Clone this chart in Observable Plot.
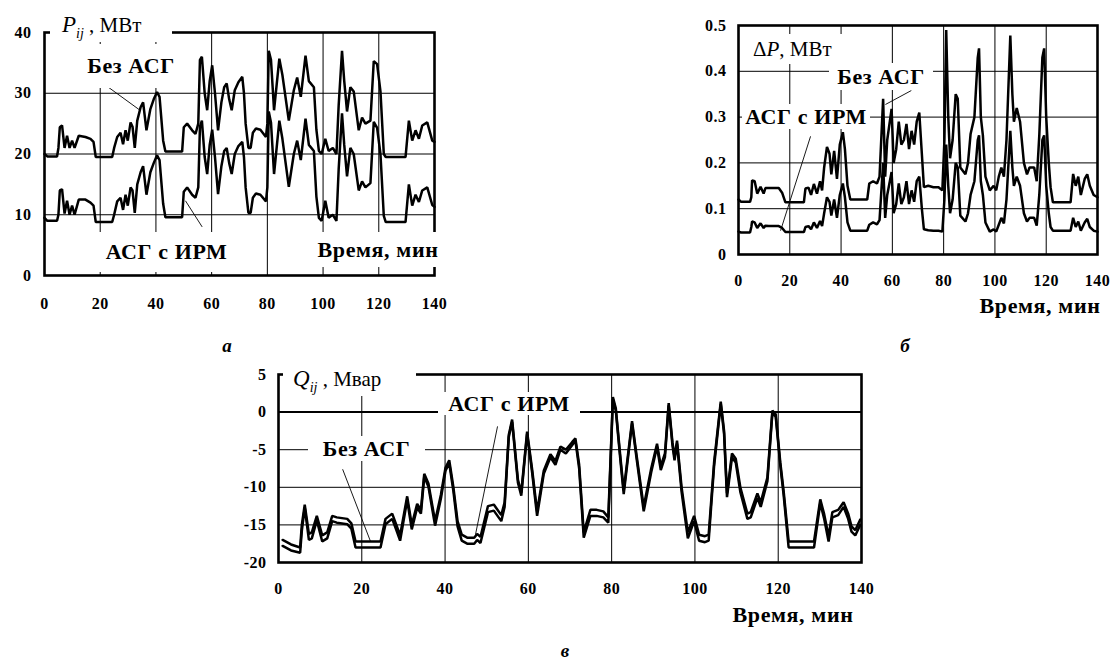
<!DOCTYPE html>
<html><head><meta charset="utf-8">
<script src="https://cdn.jsdelivr.net/npm/d3@7"></script>
<script src="https://cdn.jsdelivr.net/npm/@observablehq/plot@0.6"></script>
<style>
body{margin:0;background:#fff;}
#fig{position:relative;width:1112px;height:663px;overflow:hidden;background:#fff;font-family:"Liberation Serif","Times New Roman",serif;color:#000;}
.pw{position:absolute;}
.lab{position:absolute;background:#fff;font-weight:bold;font-size:22px;line-height:1;white-space:nowrap;display:flex;align-items:center;justify-content:center;letter-spacing:0.6px;}
.ttl{position:absolute;background:#fff;font-size:21px;line-height:1;white-space:nowrap;display:flex;align-items:center;}
.cap{position:absolute;font-weight:bold;font-style:italic;font-size:19px;line-height:1;transform:translate(-50%,-50%);}
sub{font-size:14px;font-style:italic;vertical-align:-6px;line-height:0;}
</style></head>
<body><div id="fig"></div>
<script>
// ---------- data (time in minutes, values) ----------
const xTicks = [0,20,40,60,80,100,120,140];
const yTicksA = [0,10,20,30,40];
const yTicksB = [0,0.1,0.2,0.3,0.4,0.5];
const yTicksC = [5,0,-5,-10,-15,-20];

// Panel a: P_ij, MW
const pBez = [[0,20],[1,19.6],[4.5,19.6],[5,21],[5.5,24.4],[6.3,24.7],[7.2,21],[8.1,23],[9,21],[9.9,22.2],[10.8,21],[12.3,23],[14.7,22.8],[16.5,22.5],[17.6,22],[18.4,19.5],[24.3,19.5],[25,21],[26.1,22.8],[27.3,23.5],[28.2,21.6],[29.1,23.9],[29.9,22.2],[30.9,25.2],[31.6,24.5],[32.4,21],[33.3,25.5],[34.5,27.7],[35.4,28.5],[36.6,23.9],[38,27.4],[39.2,29],[40.4,30.2],[41.3,29.4],[42.6,22.2],[43.4,20.4],[49.4,20.4],[50,24.4],[51.2,25],[53,23.9],[54.2,23.3],[55.2,25],[55.8,35.5],[56.5,36],[57.5,30],[58.4,27.2],[59.3,32],[60.2,34.6],[61.2,30],[62.3,23.9],[63.5,28.5],[64.5,31],[65.4,31.6],[66.3,29],[67.2,27.2],[68.3,30.5],[69.6,31.8],[71,32.7],[71.6,30],[72.2,25],[73.2,21],[74,21],[74.8,23.5],[75.9,24.2],[77.5,24],[79.5,22.8],[80,25],[80.5,37],[81.3,35.5],[82.4,27.2],[84.3,35.7],[85.4,33],[87.7,25.5],[89.5,30.5],[90.7,32.6],[92,29.4],[93.7,36.2],[94.9,32],[96.7,31],[97.6,24],[98.5,20.5],[99.5,20],[100.8,22.5],[102,20.5],[103.5,21],[104.8,20],[105.6,28],[106.8,37],[107.6,32],[108.6,27],[109.8,31],[111,30.3],[112.8,23.9],[114,26],[115.2,25],[117,25.5],[118.2,35.3],[119.4,34.8],[120.6,30.3],[121.8,20],[122.5,19.5],[129.6,19.5],[130.8,25.5],[132,22.2],[133.2,23.9],[134.4,22.5],[135.6,24.7],[137.4,25.2],[139.2,22.2],[140,22]];
const pIrm = [[0,9.5],[1,9],[4.5,9],[5,10],[5.5,14],[6.3,14.2],[7.2,10.2],[8.1,12.3],[9,10],[9.9,11.5],[10.8,10],[12.3,12.5],[14.7,12.5],[16.5,12],[17.6,11.5],[18.4,8.8],[24.3,8.8],[25,10],[26.1,12.2],[27.3,12.8],[28.2,10.8],[29.1,13.3],[29.9,11.5],[30.9,14.5],[31.6,14],[32.4,10.3],[33.3,15],[34.5,17],[35.4,18],[36.6,13.3],[38,17],[39.2,18.5],[40.4,19.8],[41.3,19],[42.6,11.8],[43.4,9.6],[49.4,9.6],[50,13.8],[51.2,14.5],[53,13.3],[54.2,12.8],[55.2,14.5],[55.8,24.5],[56.5,25.5],[57.5,19.5],[58.4,16.7],[59.3,21.5],[60.2,24],[61.2,19.5],[62.3,13.4],[63.5,18],[64.5,20.5],[65.4,21],[66.3,18.5],[67.2,16.7],[68.3,20],[69.6,21.3],[71,22],[71.6,19.5],[72.2,14.5],[73.2,10.3],[74,10.3],[74.8,12.8],[75.9,13.5],[77.5,13.3],[79.5,12.2],[80,14.5],[80.5,27],[81.3,25.2],[82.4,16.7],[84.3,25.5],[85.4,22.5],[87.7,14.6],[89.5,20],[90.7,22.2],[92,19],[93.7,25.8],[94.9,21.5],[96.7,20.5],[97.6,13],[98.5,9.5],[99.5,9],[100.8,12.3],[102,9.5],[103.5,10],[104.8,9],[105.6,17.5],[106.8,26.7],[107.6,21.5],[108.6,16.3],[109.8,21],[111,20],[112.8,14],[114,15.5],[115.2,14.5],[117,15.2],[118.2,25.3],[119.4,24.3],[120.6,20],[121.8,9.8],[122.5,8.8],[129.6,8.8],[130.8,15],[132,11.5],[133.2,13.3],[134.4,12.1],[135.6,14],[137.4,14.5],[139.2,11.6],[140,11.3]];

// Panel b: ΔP, MW
const bBez = [[0,0.12],[1,0.115],[4.5,0.115],[5,0.125],[5.3,0.162],[6.3,0.16],[7.3,0.133],[8.6,0.148],[9.8,0.133],[10.5,0.145],[11.8,0.145],[15.7,0.145],[17,0.135],[18.3,0.114],[25.5,0.114],[26.1,0.144],[27.3,0.146],[28.3,0.13],[29.4,0.154],[30.6,0.133],[31.8,0.16],[32.6,0.14],[33.4,0.19],[34.5,0.235],[35.5,0.22],[36.2,0.175],[37.3,0.226],[38.4,0.165],[39.5,0.24],[40.7,0.267],[41.5,0.23],[42.5,0.15],[43.6,0.12],[50.2,0.12],[51,0.155],[52.5,0.16],[54,0.155],[55,0.17],[56.4,0.34],[57.2,0.17],[58,0.25],[59.7,0.318],[60.5,0.2],[61.5,0.23],[62.5,0.29],[63.5,0.24],[64.5,0.25],[65.5,0.285],[66.5,0.23],[67.5,0.27],[68.5,0.24],[69.5,0.29],[70.5,0.31],[71.5,0.22],[72.3,0.147],[74,0.15],[76,0.147],[78,0.147],[79.5,0.14],[80.3,0.25],[81,0.49],[81.8,0.3],[82.5,0.21],[83.5,0.25],[84.7,0.35],[85.5,0.34],[86.5,0.19],[88.5,0.175],[89.5,0.2],[90.5,0.263],[92,0.3],[93.3,0.43],[93.8,0.45],[94.5,0.3],[95.3,0.26],[96.3,0.17],[98,0.14],[99.5,0.15],[100.5,0.14],[101.5,0.17],[102.5,0.19],[103.5,0.17],[104.5,0.25],[106,0.478],[106.8,0.35],[107.4,0.29],[108.5,0.32],[109.8,0.29],[111.3,0.2],[112.5,0.175],[113.5,0.19],[115.3,0.19],[116.3,0.16],[117.3,0.26],[118.5,0.43],[119.2,0.45],[120,0.3],[121,0.2],[121.7,0.147],[122.6,0.114],[129.5,0.114],[130.5,0.176],[131.5,0.15],[132.5,0.17],[133.5,0.13],[135,0.165],[136,0.175],[137,0.15],[138.5,0.13],[140,0.125]];
const bIrm = [[0,0.05],[1,0.048],[4.5,0.048],[5,0.06],[5.3,0.072],[6.3,0.07],[7.3,0.058],[8.6,0.068],[9.8,0.058],[10.5,0.063],[11.8,0.062],[15.7,0.062],[17,0.058],[18.3,0.049],[25.5,0.049],[26.1,0.06],[27.3,0.062],[28.3,0.055],[29.4,0.07],[30.6,0.058],[31.8,0.073],[32.6,0.062],[33.4,0.09],[34.5,0.125],[35.5,0.115],[36.2,0.085],[37.3,0.12],[38.4,0.08],[39.5,0.13],[40.7,0.155],[41.5,0.125],[42.5,0.07],[43.6,0.052],[50.2,0.052],[51,0.065],[52.5,0.07],[54,0.066],[55,0.075],[56.4,0.2],[57.2,0.08],[58,0.13],[59.7,0.18],[60.5,0.09],[61.5,0.11],[62.5,0.155],[63.5,0.11],[64.5,0.125],[65.5,0.16],[66.5,0.11],[67.5,0.14],[68.5,0.115],[69.5,0.16],[70.5,0.17],[71.5,0.1],[72.3,0.055],[74,0.053],[76,0.052],[78,0.052],[79.5,0.05],[80.3,0.12],[81,0.24],[81.8,0.15],[82.5,0.09],[83.5,0.12],[84.7,0.2],[85.5,0.19],[86.5,0.085],[88.5,0.072],[89.5,0.09],[90.5,0.13],[92,0.16],[93.3,0.25],[93.8,0.26],[94.5,0.16],[95.3,0.13],[96.3,0.07],[98,0.05],[99.5,0.055],[100.5,0.05],[101.5,0.065],[102.5,0.08],[103.5,0.068],[104.5,0.12],[106,0.27],[106.8,0.19],[107.4,0.15],[108.5,0.17],[109.8,0.15],[111.3,0.09],[112.5,0.072],[113.5,0.08],[115.3,0.08],[116.3,0.063],[117.3,0.13],[118.5,0.25],[119.2,0.26],[120,0.15],[121,0.09],[121.7,0.06],[122.6,0.052],[129.5,0.052],[130.5,0.08],[131.5,0.06],[132.5,0.072],[133.5,0.052],[135,0.07],[136,0.078],[137,0.06],[138.5,0.052],[140,0.05]];

// Panel c: Q_ij, Mvar
const cBez = [[1,-17],[3,-17.6],[5.2,-18],[5.6,-15],[6.3,-12.3],[7.3,-16.2],[8,-16],[9.2,-13.8],[10.5,-16.4],[11.7,-16],[12.9,-13.8],[14,-14],[16.5,-14.2],[17.5,-14.8],[18.5,-17.2],[24.5,-17.2],[25.7,-14.2],[27.3,-13.5],[28.3,-15],[29.2,-16.4],[30.9,-11.2],[32,-15],[33.3,-12.2],[34.2,-13],[35,-8.2],[36,-9.5],[37.6,-14.5],[39,-11],[40.1,-7.4],[41,-6.4],[42,-10],[43,-14.5],[44,-16.3],[45.3,-16.7],[47,-16.7],[47.7,-16.2],[48.5,-16.6],[50.3,-12.5],[51.7,-12.3],[53.5,-13.7],[54.3,-12],[55.3,-3],[56.1,-1],[57.5,-9],[58.3,-10.7],[59.7,-2.6],[60.9,-7.6],[62.1,-13.2],[63.7,-7.8],[65.3,-5.6],[66.5,-6.5],[67.7,-4.6],[69,-5],[70.5,-4],[71.3,-3.5],[72.2,-7],[73.3,-16],[74.9,-13],[76.4,-13],[78,-13.2],[79.2,-14],[80.3,2],[81,0.5],[82.1,-6],[82.9,-10.4],[84.9,-1.2],[86,-5.8],[87.7,-12.6],[89.5,-7.5],[90.9,-4.2],[91.8,-7.2],[92.8,-5.5],[93.7,1.2],[94.6,-4],[95.1,-6],[95.7,-3.8],[96.8,-10],[98.3,-16],[99.8,-13.8],[101,-16.3],[102.4,-16.5],[103.3,-16.3],[104.6,-6.7],[106.2,1.4],[107,-2.5],[107.7,-10.8],[108.9,-5.5],[109.8,-6.2],[110.9,-10],[112.6,-13.5],[113.4,-13.3],[115,-10.8],[115.8,-12],[117.4,-8.7],[118.6,0.2],[119.4,-0.3],[120.5,-6.7],[121.3,-10.5],[122.5,-17.2],[128.6,-17.2],[130.1,-11.6],[131,-13.5],[132.1,-16.5],[133,-13.3],[134.4,-13],[135.7,-12],[136.8,-13.5],[137.6,-15.2],[138.5,-15.7],[139.7,-14.3]];
const cIrm = [[1,-17.8],[3,-18.4],[5.2,-18.7],[5.6,-15.8],[6.3,-12.7],[7.3,-17],[8,-16.8],[9.2,-14.4],[10.5,-17.2],[11.7,-16.8],[12.9,-14.5],[14,-14.7],[16.5,-14.9],[17.5,-15.5],[18.5,-18],[24.5,-18],[25.7,-14.9],[27.3,-14.2],[28.3,-15.7],[29.2,-17.1],[30.9,-11.7],[32,-15.6],[33.3,-12.7],[34.2,-13.5],[35,-8.6],[36,-9.9],[37.6,-15.1],[39,-11.5],[40.1,-7.8],[41,-6.8],[42,-10.5],[43,-15.2],[44,-17.1],[45.3,-17.5],[47,-17.5],[47.7,-17],[48.5,-17.4],[50.3,-13.3],[51.7,-13.1],[53.5,-14.5],[54.3,-12.6],[55.3,-3.3],[56.1,-1.3],[57.5,-9.4],[58.3,-11.1],[59.7,-2.9],[60.9,-8],[62.1,-13.8],[63.7,-8.2],[65.3,-6],[66.5,-7],[67.7,-5],[69,-5.5],[70.5,-4.4],[71.3,-3.8],[72.2,-7.5],[73.3,-16.7],[74.9,-13.8],[76.4,-13.8],[78,-14],[79.2,-14.7],[80.3,1.7],[81,0.2],[82.1,-6.4],[82.9,-10.9],[84.9,-1.5],[86,-6.2],[87.7,-13.2],[89.5,-8],[90.9,-4.6],[91.8,-7.7],[92.8,-6],[93.7,0.9],[94.6,-4.4],[95.1,-6.4],[95.7,-4.2],[96.8,-10.6],[98.3,-16.8],[99.8,-14.5],[101,-17.1],[102.4,-17.3],[103.3,-17.1],[104.6,-7.2],[106.2,1.1],[107,-2.9],[107.7,-11.3],[108.9,-6],[109.8,-6.7],[110.9,-10.6],[112.6,-14.2],[113.4,-14],[115,-11.4],[115.8,-12.6],[117.4,-9.2],[118.6,-0.1],[119.4,-0.6],[120.5,-7.1],[121.3,-11],[122.5,-18],[128.6,-18],[130.1,-12.1],[131,-14.1],[132.1,-17.2],[133,-14],[134.4,-13.7],[135.7,-12.6],[136.8,-14.2],[137.6,-15.9],[138.5,-16.4],[139.7,-15]];

// leader lines (data coordinates)
const leadA = [{x1:20.5,y1:31.8,x2:34.3,y2:27.2},{x1:50.6,y1:12.3,x2:56.6,y2:8.0}];
const leadB = [{x1:57.3,y1:0.3275,x2:67.4,y2:0.358},{x1:28.1,y1:0.258,x2:16.4,y2:0.052}];
const leadC = [{x1:15.4,y1:-7.6,x2:22.1,y2:-17.2},{x1:52.6,y1:-1.9,x2:47.3,y2:-16.3}];

// ---------- helpers ----------
const FONT = '"Liberation Serif","Times New Roman",serif';
const rows = (a, b) => [...a.map(([t,v]) => ({t, v, s:"Без АСГ"})), ...b.map(([t,v]) => ({t, v, s:"АСГ с ИРМ"}))];
const fig = document.getElementById("fig");

function panel({data, yDomain, yTicks, leaders, width, height, ml, mr, mt, mb, xPad, yPad, zero}) {
  return Plot.plot({
    width, height, marginLeft: ml, marginRight: mr, marginTop: mt, marginBottom: mb,
    x: {domain: [0, 140]},
    y: {domain: yDomain},
    style: {fontFamily: FONT, fontSize: "16px", fontWeight: "bold", color: "#000", background: "transparent", overflow: "visible", letterSpacing: "0.5px"},
    marks: [
      Plot.ruleX(xTicks, {stroke: "#000", strokeWidth: 1}),
      Plot.ruleY(yTicks, {stroke: "#000", strokeWidth: 1}),
      zero ? Plot.ruleY([0], {stroke: "#000", strokeWidth: 2}) : null,
      Plot.line(data, {x: "t", y: "v", z: "s", stroke: "#000", strokeWidth: 2.5, strokeLinejoin: "miter"}),
      Plot.link(leaders, {x1: "x1", y1: "y1", x2: "x2", y2: "y2", stroke: "#000", strokeWidth: 0.9}),
      Plot.frame({stroke: "#000", strokeWidth: 2.6}),
      Plot.axisX(xTicks, {tickSize: 0, tickPadding: xPad, label: null, fontSize: 16, fontWeight: "bold", tickFormat: d => String(d)}),
      Plot.axisY(yTicks, {tickSize: 0, tickPadding: yPad, label: null, fontSize: 16, fontWeight: "bold", tickFormat: d => String(d)})
    ]
  });
}
function place(node, left, top) {
  const w = document.createElement("div");
  w.className = "pw"; w.style.left = left + "px"; w.style.top = top + "px";
  w.appendChild(node); fig.appendChild(w);
}
function box(cls, html, left, top, w, h, extra) {
  const d = document.createElement("div");
  d.className = cls; d.innerHTML = html;
  Object.assign(d.style, {left: left + "px", top: top + "px", width: w + "px", height: h + "px"}, extra || {});
  fig.appendChild(d);
}
function cap(text, x, y) {
  const d = document.createElement("div");
  d.className = "cap"; d.textContent = text;
  d.style.left = x + "px"; d.style.top = y + "px";
  fig.appendChild(d);
}

// ---------- panels ----------
place(panel({data: rows(pBez, pIrm), yDomain: [0, 40], yTicks: yTicksA, leaders: leadA,
  width: 460, height: 320, ml: 44, mr: 26, mt: 32, mb: 45, xPad: 22, yPad: 13}), 0, 0);
place(panel({data: rows(bBez, bIrm), yDomain: [0, 0.5], yTicks: yTicksB, leaders: leadB,
  width: 422, height: 300, ml: 48, mr: 15, mt: 25, mb: 46, xPad: 20, yPad: 12}), 690, 0);
place(panel({data: rows(cBez, cIrm), yDomain: [-20, 5], yTicks: yTicksC, leaders: leadC,
  width: 650, height: 245, ml: 48, mr: 19, mt: 14, mb: 43, xPad: 20, yPad: 12, zero: true}), 230, 360);

// ---------- annotations ----------
box("ttl", '<span><i style="font-size:23px">P</i><sub>ij</sub>&nbsp;, МВт</span>', 50, 6, 122, 36, {paddingLeft: "12px", boxSizing: "border-box"});
box("lab", "Без АСГ", 80, 44, 102, 44);
box("lab", "АСГ с ИРМ", 96, 232, 141, 40);
box("lab", "Время, мин", 310, 232, 136, 35);
cap("а", 227, 345);

box("ttl", '<span>Δ<i>P</i>, МВт</span>', 746, 34, 97, 30, {paddingLeft: "7px", boxSizing: "border-box"});
box("lab", "Без АСГ", 829, 63, 104, 27);
box("lab", "АСГ с ИРМ", 742, 104, 128, 25);
box("lab", "Время, мин", 974, 294, 132, 24);
cap("б", 905, 345);

box("ttl", '<span><i style="font-size:23px">Q</i><sub>ij</sub>&nbsp;, Мвар</span>', 283, 360, 133, 36, {paddingLeft: "10px", boxSizing: "border-box"});
box("lab", "АСГ с ИРМ", 438, 392, 142, 23);
box("lab", "Без АСГ", 308, 436, 117, 25);
box("lab", "Время, мин", 726, 603, 134, 24);
cap("в", 565, 650);
</script>
</body></html>
